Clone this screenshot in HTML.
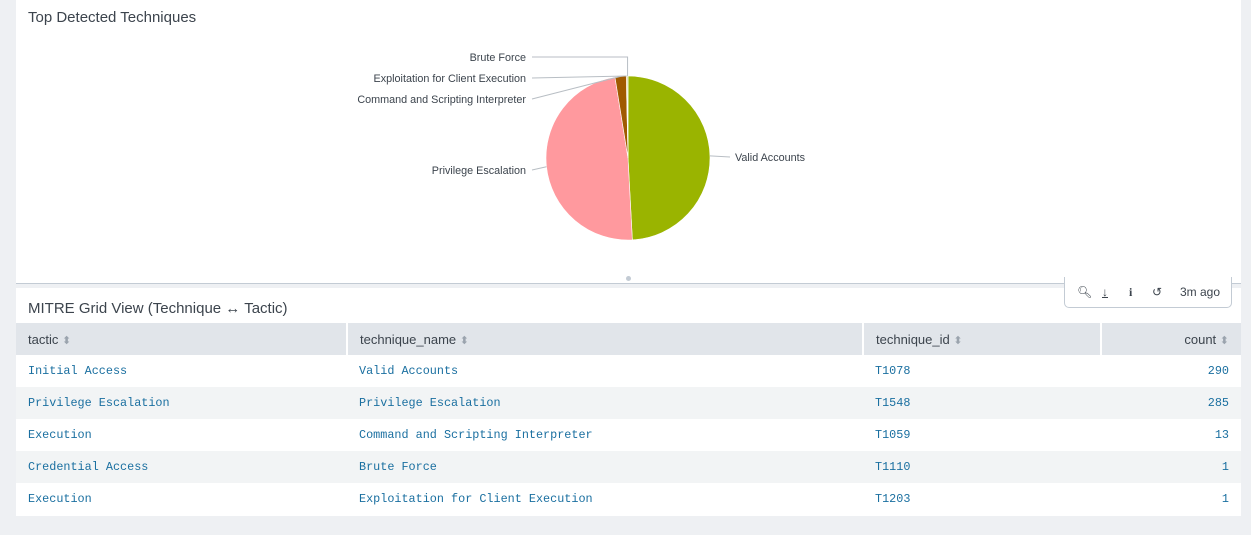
<!DOCTYPE html>
<html><head><meta charset="utf-8"><style>
body{margin:0;width:1251px;height:535px;background:#eef0f3;font-family:"Liberation Sans",sans-serif;position:relative;overflow:hidden}
.panel{position:absolute;left:16px;width:1225px;background:#fff}
.title{position:absolute;left:12px;font-size:15px;color:#3c444d}
table{position:absolute;left:0;top:35px;width:1225px;border-collapse:collapse}
th{background:#e1e5ea;height:32px;font-weight:normal;font-size:13px;color:#3c444d;text-align:left;padding:0 12px;border-right:2px solid #fff}
th:last-child{border-right:none;text-align:right}
td{height:32px;padding:0 12px;font-family:"Liberation Mono",monospace;font-size:11.8px;color:#1a6fa0}
td:last-child{text-align:right}
tr.alt td{background:#f2f4f5}
.sort{color:#9aa3ad;font-size:11px}
.tb{position:absolute;left:1064px;top:277px;width:166px;height:30px;background:#fff;border:1px solid #c3cbd4;border-top:none;border-radius:0 0 5px 5px;font-size:12px;color:#3c444d}
.tb span{position:absolute;top:8px}
</style></head><body>
<div class="panel" style="top:0;height:283px;border-bottom:1px solid #c3cbd4">
<div class="title" style="top:9px">Top Detected Techniques</div>
<svg id="pie" width="1225" height="283" style="position:absolute;left:0;top:0"></svg>
<div style="position:absolute;left:610px;top:276px;width:5px;height:5px;border-radius:50%;background:#c3cbd4"></div>
</div>
<div class="panel" style="top:288px;height:228px">
<div class="title" style="top:12px">MITRE Grid View (Technique ↔ Tactic)</div>
<table>
<tr><th style="width:306px">tactic <span class="sort">⬍</span></th><th style="width:490px">technique_name <span class="sort">⬍</span></th><th style="width:212px">technique_id <span class="sort">⬍</span></th><th>count <span class="sort">⬍</span></th></tr>
<tr><td>Initial Access</td><td>Valid Accounts</td><td>T1078</td><td>290</td></tr>
<tr class="alt"><td>Privilege Escalation</td><td>Privilege Escalation</td><td>T1548</td><td>285</td></tr>
<tr><td>Execution</td><td>Command and Scripting Interpreter</td><td>T1059</td><td>13</td></tr>
<tr class="alt"><td>Credential Access</td><td>Brute Force</td><td>T1110</td><td>1</td></tr>
<tr><td>Execution</td><td>Exploitation for Client Execution</td><td>T1203</td><td>1</td></tr>
</table>
</div>
<div class="tb">
<span style="left:12px">&#x1F50D;&#xFE0E;</span>
<span style="left:37px;text-decoration:underline">↓</span>
<span style="left:64px;font-weight:bold;font-family:'Liberation Serif',serif">i</span>
<span style="left:87px">↺</span>
<span style="left:115px">3m ago</span>
</div>
<script>
const labels=["Valid Accounts","Privilege Escalation","Command and Scripting Interpreter","Exploitation for Client Execution","Brute Force"];
const values=[290,285,13,1,1];
const colors=["#9ab400","#ff999e","#a05a00","#e06d00","#7a9e00"];
const ns="http://www.w3.org/2000/svg",svg=document.getElementById('pie');
const cx=612,cy=158,r=82,total=values.reduce((a,b)=>a+b,0);
let a0=0;
const labelY={"Valid Accounts":157,"Privilege Escalation":170,"Command and Scripting Interpreter":99,"Exploitation for Client Execution":78,"Brute Force":57};
values.forEach((v,i)=>{
 const a1=a0+v/total*2*Math.PI;
 const x0=cx+r*Math.sin(a0),y0=cy-r*Math.cos(a0),x1=cx+r*Math.sin(a1),y1=cy-r*Math.cos(a1);
 const p=document.createElementNS(ns,'path');
 p.setAttribute('d',`M${cx},${cy}L${x0},${y0}A${r},${r} 0 ${a1-a0>Math.PI?1:0} 1 ${x1},${y1}Z`);
 p.setAttribute('fill',colors[i]);p.setAttribute('stroke','#fff');p.setAttribute('stroke-width','0.6');
 
 
 svg.appendChild(p);
 const am=(a0+a1)/2,ex=cx+r*Math.sin(am),ey=cy-r*Math.cos(am);
 const right=Math.sin(am)>0.3;
 const ly=labelY[labels[i]];
 const lx=right?cx+r+25:cx-r-4;
 const l=document.createElementNS(ns,'polyline');
 let pts=right?`${ex},${ey} ${lx-5},${ly}`:(labels[i]=="Brute Force"?`${ex},${ey} ${ex},${ly} 516,${ly}`:`${ex},${ey} 516,${ly}`);
 l.setAttribute('points',pts);l.setAttribute('fill','none');l.setAttribute('stroke','#b8bec4');
 
 
 svg.appendChild(l);
 const t=document.createElementNS(ns,'text');
 t.setAttribute('x',right?lx:510);t.setAttribute('y',ly+4);
 t.setAttribute('text-anchor',right?'start':'end');t.setAttribute('font-size','10.8');t.setAttribute('fill','#3c444d');
 t.setAttribute('font-family','Liberation Sans, sans-serif');
 t.textContent=labels[i];
 
 
 svg.appendChild(t);
 a0=a1;
});
</script>
</body></html>
